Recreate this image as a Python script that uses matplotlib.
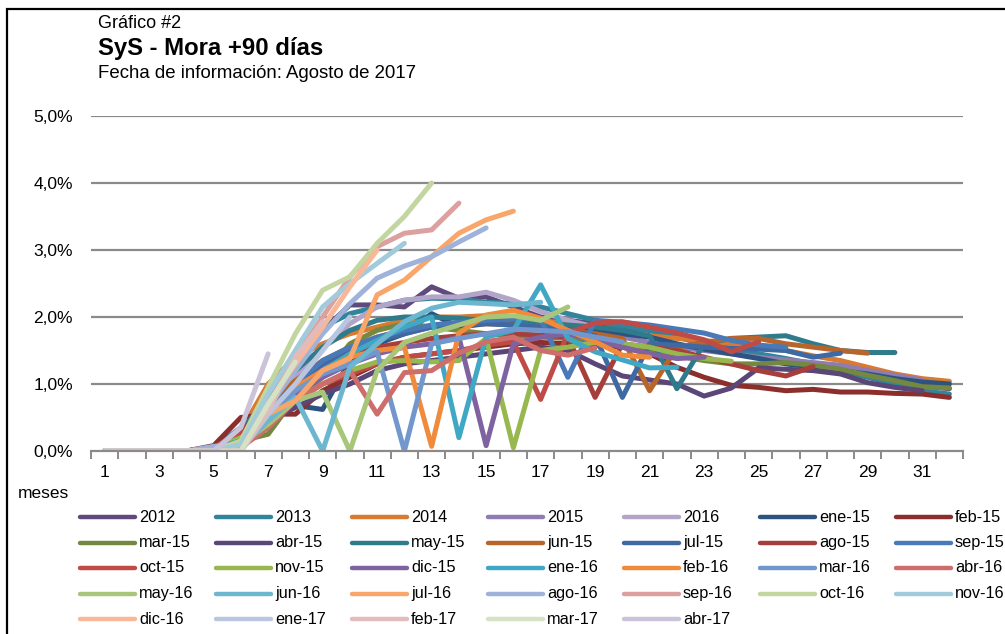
import matplotlib
matplotlib.use("Agg")
import matplotlib.pyplot as plt
from matplotlib.lines import Line2D
from matplotlib.patches import Rectangle

plt.rcParams['font.family'] = ['Liberation Sans', 'DejaVu Sans']

# months on the x axis
months = list(range(1, 33))
month_labels = [str(m) for m in range(1, 32, 2)]
y_ticks = [0, 1, 2, 3, 4, 5]
y_labels = ["0,0%", "1,0%", "2,0%", "3,0%", "4,0%", "5,0%"]

labels = ["2012", "2013", "2014", "2015", "2016",
          "ene-15", "feb-15", "mar-15", "abr-15", "may-15", "jun-15",
          "jul-15", "ago-15", "sep-15", "oct-15", "nov-15", "dic-15",
          "ene-16", "feb-16", "mar-16", "abr-16", "may-16", "jun-16",
          "jul-16", "ago-16", "sep-16", "oct-16", "nov-16", "dic-16",
          "ene-17", "feb-17", "mar-17", "abr-17"]

colors = ["#604a7b", "#31849b", "#d87a2f", "#8e7cb3", "#b2a5c9",
          "#2d5380", "#8c2f2c", "#74893f", "#5a4677", "#2f7b8c", "#b8652c",
          "#3f69a2", "#a63f3c", "#4a79b8", "#bf4b47", "#97b84f", "#7f62a0",
          "#40a8c4", "#f08b3c", "#7197cc", "#ce6e6c", "#a8c679", "#6cb7cf",
          "#f9a66b", "#9fb2da", "#dba09f", "#c3d6a0", "#a1cbdb", "#f8b797",
          "#b9c6df", "#e2bcbc", "#d5e2c4", "#cbc3da"]

# % mora +90 by month of life, one list per vintage
v2012 = [0, 0, 0, 0, 0.05, 0.3, 0.8, 1.35, 1.8, 2.18, 2.18, 2.15, 2.45, 2.28, 2.3, 2.15,
         2.0, 1.95, 1.9, 1.85, 1.8, 1.7, 1.6, 1.5, 1.42, 1.35, 1.3, 1.25, 1.15, 1.05, 0.97, 0.93]
v2013 = [0, 0, 0, 0, 0.05, 0.35, 0.9, 1.4, 1.85, 2.05, 2.15, 2.25, 2.28, 2.27, 2.22, 2.2,
         2.15, 2.05, 1.95, 1.85, 1.8, 1.72, 1.65, 1.55, 1.45, 1.38, 1.3, 1.2, 1.1, 1.0, 0.9, 0.85]
v2014 = [0, 0, 0, 0, 0.05, 0.3, 1.0, 1.4, 1.6, 1.75, 1.85, 1.95, 2.0, 2.0, 2.02, 2.0,
         1.95, 1.9, 1.85, 1.78, 1.72, 1.68, 1.65, 1.6, 1.55, 1.5, 1.42, 1.35, 1.25, 1.15, 1.08, 1.04]
v2015 = [0, 0, 0, 0, 0.05, 0.15, 0.55, 0.95, 1.25, 1.5, 1.65, 1.75, 1.85, 1.9, 1.95, 1.95,
         1.9, 1.85, 1.75, 1.7, 1.62, 1.55, 1.5, 1.45, 1.4, 1.36, 1.32, 1.28, 1.2, 1.13, 1.06]
v2016 = [0, 0, 0, 0, 0.03, 0.1, 0.6, 1.1, 1.55, 1.9, 2.15, 2.25, 2.3, 2.3, 2.37, 2.25,
         2.08, 1.95, 1.85]
ene15 = [0, 0, 0, 0, 0.05, 0.2, 0.5, 0.68, 0.62, 1.35, 1.6, 1.75, 2.05, 1.85, 1.9, 1.92,
         1.9, 1.85, 1.8, 1.75, 1.7, 1.6, 1.52, 1.45, 1.38, 1.3, 1.25, 1.2, 1.15, 1.08, 1.03, 1.0]
feb15 = [0, 0, 0, 0, 0.08, 0.5, 0.55, 0.55, 0.9, 1.1, 1.3, 1.4, 1.45, 1.5, 1.55, 1.6,
         1.62, 1.6, 1.58, 1.55, 1.45, 1.25, 1.1, 0.98, 0.95, 0.9, 0.92, 0.88, 0.88, 0.86, 0.85, 0.8]
mar15 = [0, 0, 0, 0, 0.05, 0.15, 0.25, 0.8, 1.1, 1.6, 1.8, 1.9, 1.85, 1.8, 1.75, 1.72,
         1.7, 1.68, 1.65, 1.6, 1.5, 1.42, 1.35, 1.3, 1.3, 1.32, 1.28, 1.22, 1.13, 1.05, 0.96, 0.94]
abr15 = [0, 0, 0, 0, 0.03, 0.15, 0.45, 0.65, 0.85, 1.0, 1.2, 1.3, 1.35, 1.4, 1.45, 1.5,
         1.55, 1.5, 1.3, 1.12, 1.06, 1.0, 0.82, 0.94, 1.24, 1.22, 1.2, 1.15, 1.02, 0.95, 0.9]
may15 = [0, 0, 0, 0, 0.05, 0.3, 0.8, 1.2, 1.55, 1.8, 1.95, 2.0, 2.0, 1.98, 1.95, 1.92,
         1.9, 1.88, 1.85, 1.8, 1.72, 0.93, 1.6, 1.68, 1.7, 1.72, 1.6, 1.5, 1.47, 1.47]
jun15 = [0, 0, 0, 0, 0.05, 0.25, 0.7, 1.05, 1.35, 1.55, 1.7, 1.8, 1.85, 1.9, 1.9, 1.88,
         1.85, 1.8, 1.75, 1.68, 0.9, 1.55, 1.62, 1.68, 1.68, 1.6, 1.55, 1.5, 1.46]
jul15 = [0, 0, 0, 0, 0.05, 0.2, 0.6, 1.0, 1.3, 1.5, 1.65, 1.75, 1.85, 1.9, 1.9, 1.88,
         1.85, 1.8, 1.72, 0.8, 1.6, 1.58, 1.55, 1.53, 1.52, 1.5, 1.4, 1.46]
ago15 = [0, 0, 0, 0, 0.05, 0.3, 0.65, 0.9, 1.2, 1.4, 1.55, 1.62, 1.68, 1.72, 1.75, 1.75,
         1.73, 1.7, 0.8, 1.6, 1.55, 1.5, 1.4, 1.3, 1.2, 1.12, 1.26]
sep15 = [0, 0, 0, 0, 0.05, 0.2, 0.6, 1.0, 1.35, 1.55, 1.7, 1.8, 1.88, 1.92, 1.95, 1.97,
         1.97, 1.1, 1.95, 1.92, 1.88, 1.82, 1.76, 1.65, 1.58, 1.55]
oct15 = [0, 0, 0, 0, 0.05, 0.25, 0.5, 0.75, 1.0, 1.15, 1.3, 1.4, 1.45, 1.5, 1.58, 1.63,
         0.77, 1.76, 1.91, 1.93, 1.85, 1.76, 1.66, 1.48, 1.63]
nov15 = [0, 0, 0, 0, 0.03, 0.2, 0.45, 0.75, 1.0, 1.2, 1.33, 1.35, 1.33, 1.35, 1.68, 0.05,
         1.5, 1.55, 1.62, 1.6, 1.55, 1.45, 1.38, 1.34]
dic15 = [0, 0, 0, 0, 0.03, 0.15, 0.5, 0.85, 1.1, 1.3, 1.45, 1.55, 1.6, 1.7, 0.08, 1.6,
         1.7, 1.75, 1.65, 1.55, 1.45, 1.38, 1.4]
ene16 = [0, 0, 0, 0, 0.03, 0.15, 0.55, 0.9, 1.2, 1.45, 1.65, 1.85, 2.0, 0.2, 1.7, 1.8,
         2.48, 1.68, 1.48, 1.36, 1.24, 1.25]
feb16 = [0, 0, 0, 0, 0.03, 0.1, 0.6, 0.95, 1.2, 1.4, 1.5, 1.55, 0.07, 1.76, 2.03, 2.1,
         1.98, 1.8, 1.63, 1.43, 1.4]
mar16 = [0, 0, 0, 0, 0.03, 0.1, 0.5, 0.9, 1.15, 1.3, 1.48, 0.0, 1.6, 1.68, 1.75, 1.82,
         1.8, 1.78, 1.7, 1.63]
abr16 = [0, 0, 0, 0, 0.02, 0.05, 0.35, 0.75, 1.0, 1.2, 0.55, 1.17, 1.2, 1.46, 1.63, 1.7,
         1.5, 1.43, 1.54]
may16 = [0, 0, 0, 0, 0.02, 0.1, 0.4, 0.75, 0.88, 0.0, 1.2, 1.62, 1.76, 1.88, 2.0, 2.02,
         1.95, 2.15]
jun16 = [0, 0, 0, 0, 0.02, 0.05, 0.45, 0.8, 0.0, 1.25, 1.6, 1.93, 2.13, 2.22, 2.2, 2.18, 2.22]
jul16 = [0, 0, 0, 0, 0, 0.0, 0.55, 0.75, 1.2, 1.38, 2.33, 2.55, 2.9, 3.25, 3.45, 3.58]
ago16 = [0, 0, 0, 0, 0.07, 0.1, 0.65, 1.2, 1.75, 2.2, 2.58, 2.76, 2.9, 3.12, 3.33]
sep16 = [0, 0, 0, 0, 0, 0.05, 0.7, 1.4, 2.0, 2.6, 3.05, 3.25, 3.3, 3.7]
oct16 = [0, 0, 0, 0, 0, 0.15, 0.95, 1.75, 2.4, 2.6, 3.1, 3.5, 4.0]
nov16 = [0, 0, 0, 0, 0, 0.1, 0.85, 1.5, 2.15, 2.5, 2.8, 3.1]
dic16 = [0, 0, 0, 0, 0, 0.0, 0.7, 1.3, 1.85, 2.45, 3.0]
ene17 = [0, 0, 0, 0, 0, 0.0, 0.55, 1.0, 1.5, 2.0]
feb17 = [0, 0, 0, 0, 0, 0.0, 0.6, 1.4, 1.93]
mar17 = [0, 0, 0, 0, 0, 0.0, 0.7, 1.33]
abr17 = [0, 0, 0, 0, 0, 0.35, 1.45]

series = [v2012, v2013, v2014, v2015, v2016,
          ene15, feb15, mar15, abr15, may15, jun15, jul15, ago15, sep15, oct15, nov15, dic15,
          ene16, feb16, mar16, abr16, may16, jun16, jul16, ago16, sep16, oct16, nov16, dic16,
          ene17, feb17, mar17, abr17]

W, H = 1005, 634
fig = plt.figure(figsize=(W / 100, H / 100), dpi=100)
ax = fig.add_axes([91 / W, 1 - 451 / H, 872 / W, 335 / H])

for vals, col, lab in zip(series, colors, labels):
    ax.plot(months[:len(vals)], vals, color=col, lw=3.6, label=lab,
            solid_capstyle='round', solid_joinstyle='round')

ax.set_xlim(0.5, 32.5)
ax.set_ylim(0, 5)
grid_col = "#8a8a8a"
for y in y_ticks[1:]:
    ax.axhline(y, color=grid_col, lw=1.6, zorder=0)
for s in ["top", "right", "left"]:
    ax.spines[s].set_visible(False)
ax.spines["bottom"].set_color(grid_col)
ax.spines["bottom"].set_linewidth(1.6)

ax.set_yticks(y_ticks)
ax.set_yticklabels(y_labels, fontsize=12.5)
ax.tick_params(axis="y", length=0, pad=13)

ax.set_xticks([k + 0.5 for k in range(0, 33)])
ax.set_xticklabels([])
ax.tick_params(axis="x", which="major", length=6, width=1.4, color=grid_col)
ax.set_xticks(list(range(1, 32, 2)), minor=True)
ax.set_xticklabels(month_labels, minor=True, fontsize=12.5)
ax.tick_params(axis="x", which="minor", length=0, pad=10)

# titles
fig.text(98 / W, 1 - 24 / H, "Gráfico #2", fontsize=13, va="center", ha="left")
fig.text(98 / W, 1 - 48 / H, "SyS - Mora +90 días", fontsize=17.2, fontweight="bold",
         va="center", ha="left")
fig.text(98 / W, 1 - 74 / H, "Fecha de información: Agosto de 2017", fontsize=13.4,
         va="center", ha="left")
fig.text(18 / W, 1 - 494 / H, "meses", fontsize=12.5, va="center", ha="left")

# legend, row by row, 7 columns
for i, (col, lab) in enumerate(zip(colors, labels)):
    r, c = divmod(i, 7)
    x0 = 80 + 136 * c
    y0 = 517 + 25.5 * r
    fig.add_artist(Line2D([x0 / W, (x0 + 55) / W], [1 - y0 / H, 1 - y0 / H],
                          color=col, lw=3.2, solid_capstyle='round'))
    fig.text((x0 + 59) / W, 1 - y0 / H, lab, fontsize=11.7, va="center", ha="left")

# outer frame (partly cut off in the original)
fig.add_artist(Rectangle((7 / W, -0.1), 1.2, 1 - 9 / H + 0.1, transform=fig.transFigure,
                         fill=False, edgecolor="black", lw=1.6))

fig.savefig("out.png", dpi=100)
